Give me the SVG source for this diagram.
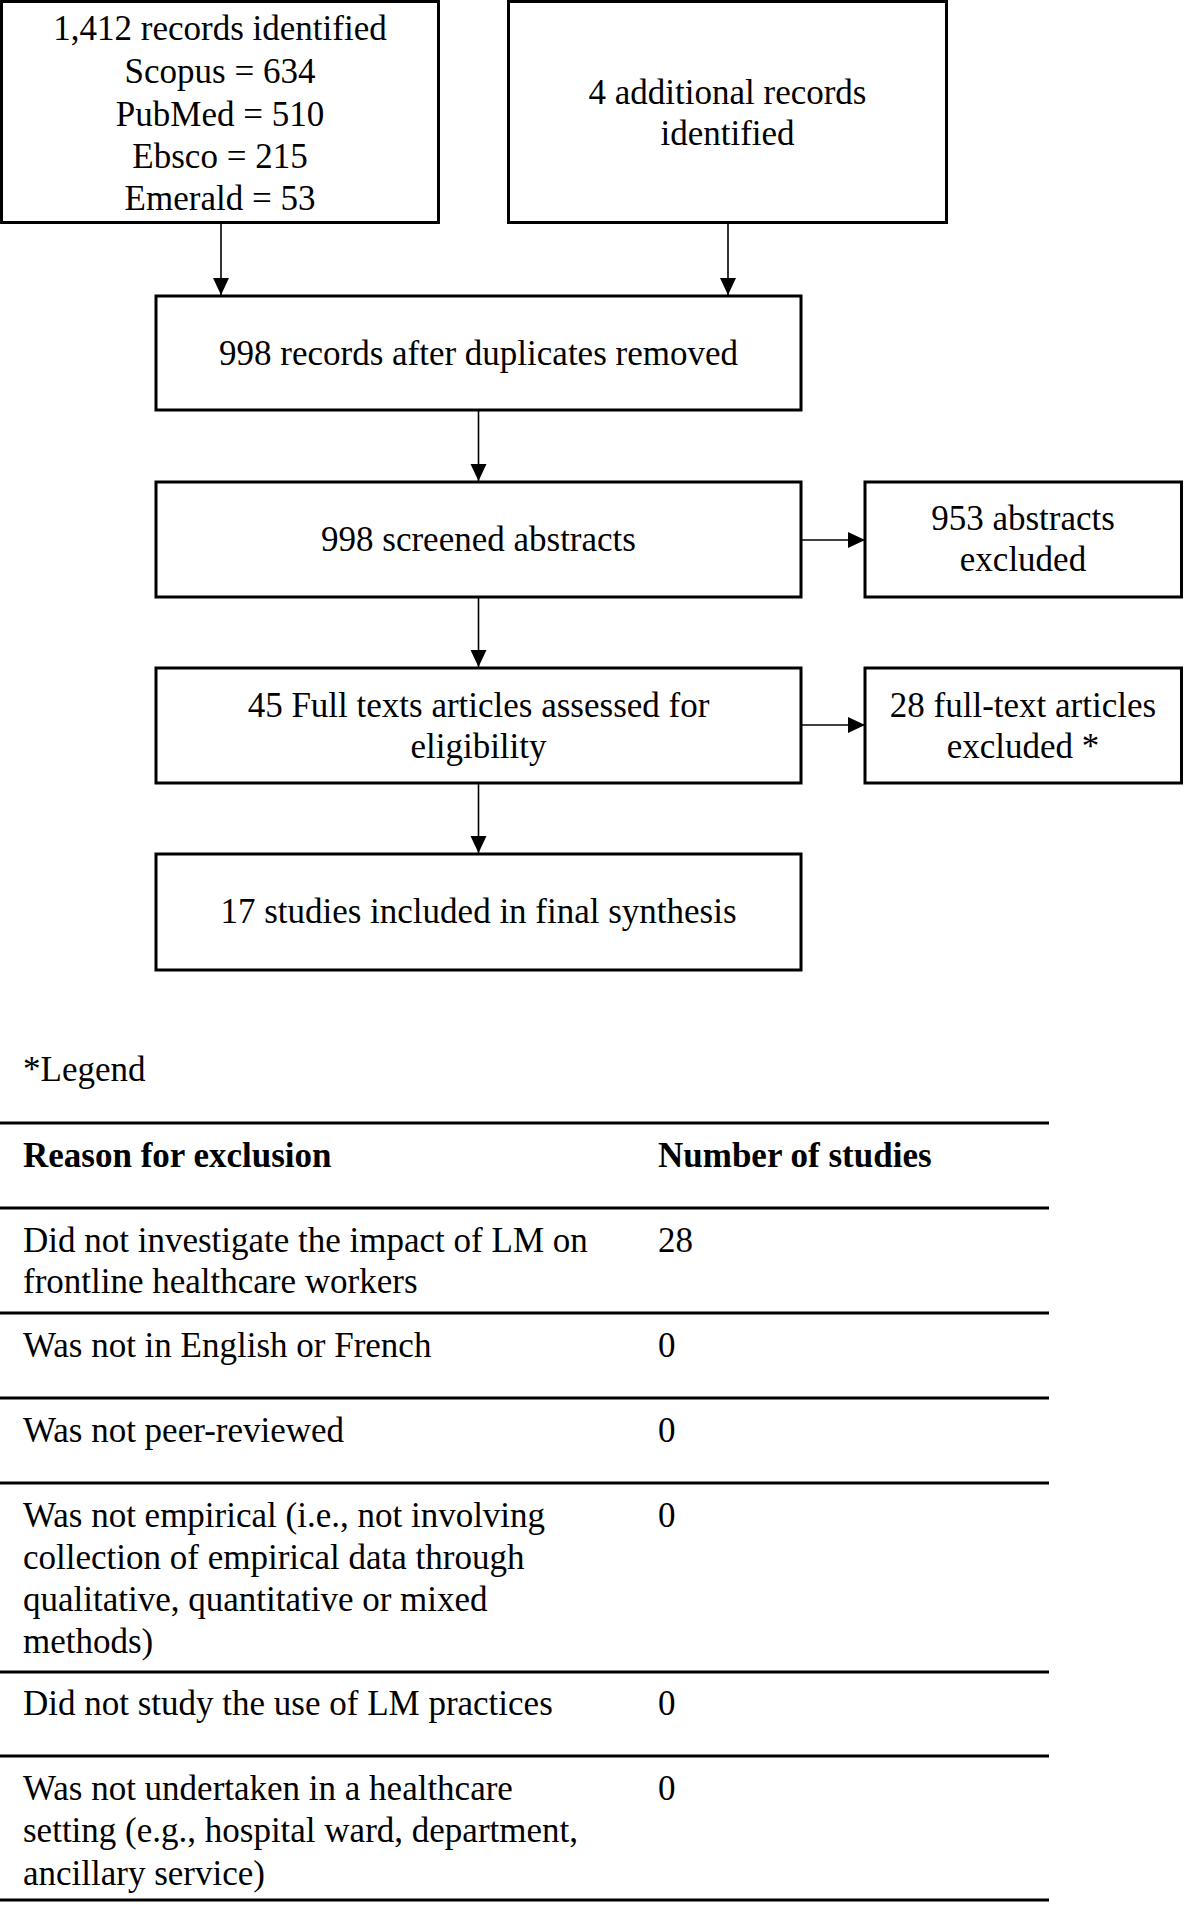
<svg xmlns="http://www.w3.org/2000/svg" width="1184" height="1905" viewBox="0 0 1184 1905">
<style>
.box{fill:#fff;stroke:#000;stroke-width:3}
.t{font-family:"Liberation Serif","Times New Roman",serif;font-size:35px;fill:#000}
.c{text-anchor:middle}
.b{font-weight:bold}
.conn{stroke:#000;stroke-width:1.6;fill:none}
.rule{stroke:#000;stroke-width:3}
</style>
<defs>
<marker id="ah" markerUnits="userSpaceOnUse" markerWidth="18" markerHeight="18" viewBox="0 0 18 18" refX="17" refY="9" orient="auto">
<path d="M0,1 L17,9 L0,17 Z" fill="#000"/>
</marker>
</defs>
<rect width="1184" height="1905" fill="#fff"/>
<g id="connectors">
<line class="conn" x1="221" y1="223" x2="221" y2="295" marker-end="url(#ah)"/>
<line class="conn" x1="728" y1="223" x2="728" y2="295" marker-end="url(#ah)"/>
<line class="conn" x1="478.5" y1="410" x2="478.5" y2="481" marker-end="url(#ah)"/>
<line class="conn" x1="801" y1="540" x2="865" y2="540" marker-end="url(#ah)"/>
<line class="conn" x1="478.5" y1="597" x2="478.5" y2="667" marker-end="url(#ah)"/>
<line class="conn" x1="801" y1="725" x2="865" y2="725" marker-end="url(#ah)"/>
<line class="conn" x1="478.5" y1="783" x2="478.5" y2="853" marker-end="url(#ah)"/>
</g>
<g id="n-identified">
<rect class="box" x="1.5" y="1.5" width="437" height="221"/>
<text class="t c" x="220" y="40">1,412 records identified</text>
<text class="t c" x="220" y="83">Scopus = 634</text>
<text class="t c" x="220" y="126">PubMed = 510</text>
<text class="t c" x="220" y="168">Ebsco = 215</text>
<text class="t c" x="220" y="210">Emerald = 53</text>
</g>
<g id="n-additional">
<rect class="box" x="508.5" y="1.5" width="438" height="221"/>
<text class="t c" x="727.5" y="104">4 additional records</text>
<text class="t c" x="727.5" y="145">identified</text>
</g>
<g id="n-duplicates">
<rect class="box" x="156" y="296" width="645" height="114"/>
<text class="t c" x="478.5" y="365">998 records after duplicates removed</text>
</g>
<g id="n-screened">
<rect class="box" x="156" y="482" width="645" height="115"/>
<text class="t c" x="478.5" y="551">998 screened abstracts</text>
</g>
<g id="n-abs-excluded">
<rect class="box" x="865" y="482" width="316.5" height="115"/>
<text class="t c" x="1023" y="530">953 abstracts</text>
<text class="t c" x="1023" y="571">excluded</text>
</g>
<g id="n-fulltext">
<rect class="box" x="156" y="668" width="645" height="115"/>
<text class="t c" x="478.5" y="717">45 Full texts articles assessed for</text>
<text class="t c" x="478.5" y="758">eligibility</text>
</g>
<g id="n-ft-excluded">
<rect class="box" x="865" y="668" width="316.5" height="115"/>
<text class="t c" x="1023" y="717">28 full-text articles</text>
<text class="t c" x="1023" y="758">excluded *</text>
</g>
<g id="n-included">
<rect class="box" x="156" y="854" width="645" height="116"/>
<text class="t c" x="478.5" y="923">17 studies included in final synthesis</text>
</g>
<g id="legend">
<text class="t" x="23" y="1081">*Legend</text>
<line class="rule" x1="0" y1="1123" x2="1049" y2="1123"/>
<text class="t b" x="23" y="1167">Reason for exclusion</text>
<text class="t b" x="658" y="1167">Number of studies</text>
<line class="rule" x1="0" y1="1208" x2="1049" y2="1208"/>
<text class="t" x="23" y="1252">Did not investigate the impact of LM on</text>
<text class="t" x="23" y="1293">frontline healthcare workers</text>
<text class="t" x="658" y="1252">28</text>
<line class="rule" x1="0" y1="1313" x2="1049" y2="1313"/>
<text class="t" x="23" y="1357">Was not in English or French</text>
<text class="t" x="658" y="1357">0</text>
<line class="rule" x1="0" y1="1398" x2="1049" y2="1398"/>
<text class="t" x="23" y="1442">Was not peer-reviewed</text>
<text class="t" x="658" y="1442">0</text>
<line class="rule" x1="0" y1="1483" x2="1049" y2="1483"/>
<text class="t" x="23" y="1527">Was not empirical (i.e., not involving</text>
<text class="t" x="23" y="1569">collection of empirical data through</text>
<text class="t" x="23" y="1611">qualitative, quantitative or mixed</text>
<text class="t" x="23" y="1653">methods)</text>
<text class="t" x="658" y="1527">0</text>
<line class="rule" x1="0" y1="1672" x2="1049" y2="1672"/>
<text class="t" x="23" y="1715">Did not study the use of LM practices</text>
<text class="t" x="658" y="1715">0</text>
<line class="rule" x1="0" y1="1756" x2="1049" y2="1756"/>
<text class="t" x="23" y="1800">Was not undertaken in a healthcare</text>
<text class="t" x="23" y="1842">setting (e.g., hospital ward, department,</text>
<text class="t" x="23" y="1885">ancillary service)</text>
<text class="t" x="658" y="1800">0</text>
<line class="rule" x1="0" y1="1900" x2="1049" y2="1900"/>
</g>
</svg>
